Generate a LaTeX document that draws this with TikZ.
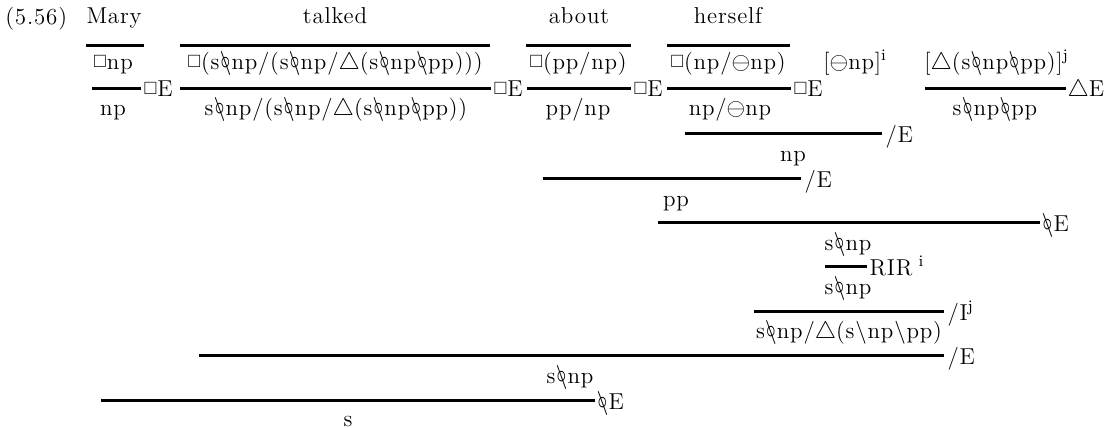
\documentclass[tikz,border=0pt]{standalone}
\usepackage{amssymb}
\usepackage{graphicx}
\usepackage{fontspec}
\setmainfont{Latin Modern Roman}[LetterSpace=3.5]
\usepackage{tikz}

% connectives
\newcommand{\bx}{\raisebox{0.15ex}{\scalebox{1.1}{$\scriptstyle\square$}}}
\newcommand{\dia}{$\triangle$}
\newcommand{\negop}{$\ominus$}
\newcommand{\lo}{\mbox{\ooalign{$\backslash$\cr\hfil\scalebox{0.8}[1.15]{$\circ$}\hfil\cr}}}

\begin{document}
\begin{tikzpicture}
[x=0.5pt, y=-0.5pt,
every node/.style={inner sep=0pt, anchor=base, font=\fontsize{11.5}{14}\selectfont},
bar/.style={line width=1.5pt},
rule/.style={anchor=base west, inner sep=0pt}]
\useasboundingbox (0,0) rectangle (1104,428);

% lexical items
\node[anchor=base west] (num) at (5,25) {(5.56)};
\node (mary) at (114,24) {Mary};
\node (talked) at (335,24) {talked};
\node (about) at (579,24) {about};
\node (herself) at (728,24) {herself};

\draw[bar] (86,45) -- (144,45);
\draw[bar] (180,45) -- (490,45);
\draw[bar] (526,45) -- (631,45);
\draw[bar] (667,45) -- (790,45);

% boxed types and hypotheses
\node (maryP) at (113,69) {\bx np};
\node (talkedP) at (335,69) {\bx(s\lo np/(s\lo np/\dia(s\lo np\lo pp)))};
\node (aboutP) at (578,69) {\bx(pp/np)};
\node (herselfP) at (728,69) {\bx(np/\negop np)};
\node[anchor=base west] (hypi) at (823,69) {[\negop np]\textsuperscript{i}};
\node[anchor=base west] (hypj) at (924,69) {[\dia(s\lo np\lo pp)]\textsuperscript{j}};

\draw[bar] (92,88) -- (141,88) node[rule] (r1) at (142,96) {\bx E};
\draw[bar] (180,88) -- (491,88) node[rule] (r2) at (492,96) {\bx E};
\draw[bar] (527,88) -- (631,88) node[rule] (r3) at (632,96) {\bx E};
\draw[bar] (667,88) -- (791,88) node[rule] (r4) at (792,96) {\bx E};
\draw[bar] (925,88) -- (1066,88) node[rule] (r5) at (1066,96) {\dia E};

\node (maryC) at (113,115) {np};
\node (talkedC) at (336,115) {s\lo np/(s\lo np/\dia(s\lo np\lo pp))};
\node (aboutC) at (578,115) {pp/np};
\node (herselfC) at (730,115) {np/\negop np};
\node (hypjC) at (995,115) {s\lo np\lo pp};

% the rest of the derivation
\draw[bar] (685,133) -- (882,133) node[rule] (r6) at (884,142) {/E};
\node (np) at (793,161) {np};
\draw[bar] (543,178) -- (801,178) node[rule] (r7) at (803,187) {/E};
\node (pp) at (676,206) {pp};
\draw[bar] (658,222) -- (1040,222) node[rule] (r8) at (1040,231) {\lo E};
\node (vpA) at (848,250) {s\lo np};
\draw[bar] (825,266) -- (867,266) node[rule] (r9) at (868,275) {RIR\textsuperscript{ i}};
\node (vpB) at (848,294) {s\lo np};
\draw[bar] (754,311) -- (944,311) node[rule] (r10) at (946,320) {/I\textsuperscript{j}};
\node (vpC) at (849,338) {s\lo np/\dia(s\textbackslash np\textbackslash pp)};
\draw[bar] (199,355) -- (944,355) node[rule] (r11) at (946,364) {/E};
\node (vpD) at (570,383) {s\lo np};
\draw[bar] (101,400) -- (595,400) node[rule] (r12) at (595,409) {\lo E};
\node (s) at (348,426) {s};
\end{tikzpicture}
\end{document}
